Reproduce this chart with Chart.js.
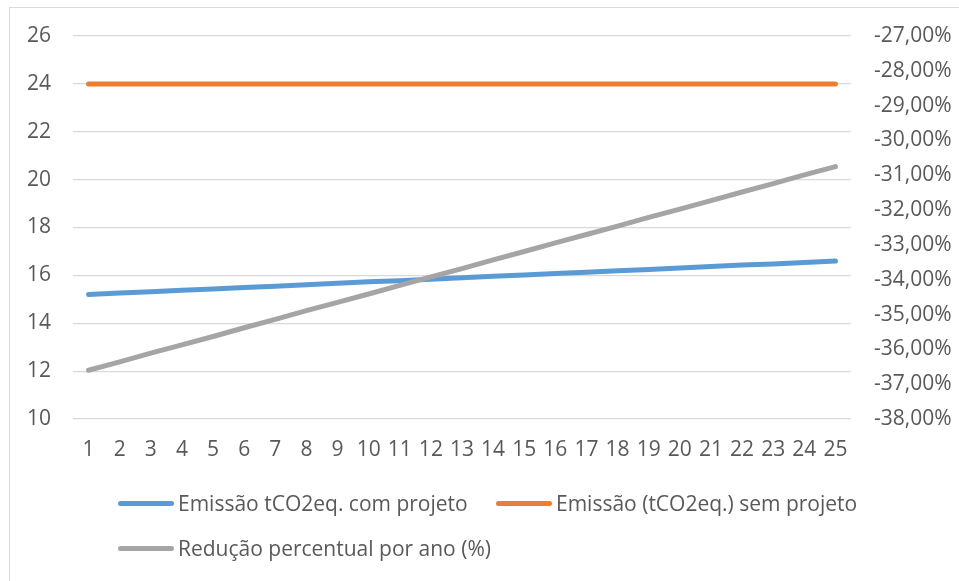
<!DOCTYPE html>
<html>
<head>
<meta charset="utf-8">
<script src="https://cdn.jsdelivr.net/npm/chart.js@4/dist/chart.umd.min.js"></script>
<style>
  html, body { margin: 0; padding: 0; background: #fff; overflow: hidden; }
  #wrap { position: relative; width: 959px; height: 581px; overflow: hidden; }
  #frame { position: absolute; left: 9px; top: 7px; width: 1200px; height: 1200px; border: 1px solid #d9d9d9; box-sizing: border-box; }
  #chart { position: absolute; left: 0; top: 0; }
  .leg { position: absolute; font-family: "Open Sans", sans-serif; font-size: 21px; color: #595959; white-space: nowrap; line-height: 24px; }
  .leg .sw { position: absolute; top: 10px; height: 5px; width: 56px; border-radius: 3px; }
  .leg .tx { position: absolute; left: 60px; top: 0; }
</style>
</head>
<body>
<div id="wrap">
  <div id="frame"></div>
  <canvas id="chart" width="959" height="581"></canvas>
  <div id="legend"></div>
</div>
<script>
// Years of the project horizon
const anos = ['1','2','3','4','5','6','7','8','9','10','11','12','13','14','15','16','17','18','19','20','21','22','23','24','25'];

// Emissions with the project (tCO2eq.)
const emissaoComProjeto = [15.20, 15.26, 15.32, 15.38, 15.43, 15.49, 15.55, 15.61, 15.67, 15.73, 15.78, 15.84, 15.90, 15.96, 16.02, 16.08, 16.13, 16.19, 16.25, 16.31, 16.37, 16.43, 16.48, 16.54, 16.60];

// Emissions without the project (tCO2eq.)
const emissaoSemProjeto = [24, 24, 24, 24, 24, 24, 24, 24, 24, 24, 24, 24, 24, 24, 24, 24, 24, 24, 24, 24, 24, 24, 24, 24, 24];

// Yearly percentage reduction (%)
const reducaoPercentual = [-36.60, -36.36, -36.11, -35.87, -35.63, -35.38, -35.14, -34.89, -34.65, -34.41, -34.16, -33.92, -33.68, -33.43, -33.19, -32.94, -32.70, -32.46, -32.21, -31.97, -31.73, -31.48, -31.24, -30.99, -30.75];

const nomesSeries = ['Emissão tCO2eq. com projeto', 'Emissão (tCO2eq.) sem projeto', 'Redução percentual por ano (%)'];
const cores = ['#5b9bd5', '#ed7d31', '#a5a5a5'];

const fonte = { family: '"Open Sans", sans-serif', size: 21 };
const corTexto = '#595959';

function serie(i, dados, eixo, ordem) {
  return {
    label: nomesSeries[i],
    data: dados,
    yAxisID: eixo,
    borderColor: cores[i],
    backgroundColor: cores[i],
    borderWidth: 5,
    borderCapStyle: 'round',
    borderJoinStyle: 'round',
    pointRadius: 0,
    pointHoverRadius: 0,
    tension: 0,
    fill: false,
    order: ordem
  };
}

new Chart(document.getElementById('chart'), {
  type: 'line',
  data: {
    labels: anos,
    datasets: [
      serie(0, emissaoComProjeto, 'y', 2),
      serie(1, emissaoSemProjeto, 'y', 1),
      serie(2, reducaoPercentual, 'y1', 0)
    ]
  },
  options: {
    responsive: false,
    devicePixelRatio: 1,
    animation: false,
    events: [],
    layout: { padding: { left: 0, right: 0, top: 36, bottom: 112 } },
    plugins: { legend: { display: false }, tooltip: { enabled: false } },
    scales: {
      x: {
        offset: true,
        grid: { display: false, drawTicks: false },
        border: { display: false },
        ticks: { font: fonte, color: corTexto, padding: 18, maxRotation: 0, autoSkip: false },
        afterFit: s => { s.height = 50; }
      },
      y: {
        position: 'left',
        min: 10, max: 26,
        ticks: { stepSize: 2, font: fonte, color: corTexto, padding: 22 },
        grid: { color: '#d9d9d9', lineWidth: 1.2, drawTicks: false },
        border: { display: false },
        afterFit: s => { s.width = 73; }
      },
      y1: {
        position: 'right',
        min: -38, max: -27,
        ticks: {
          stepSize: 1, font: fonte, color: corTexto, padding: 23,
          callback: v => v.toFixed(2).replace('.', ',') + '%'
        },
        grid: { display: false, drawTicks: false },
        border: { display: false },
        afterFit: s => { s.width = 108; }
      }
    }
  }
});

// Legend entries placed under the plot
const posLegenda = [[118, 491], [496, 491], [118, 536]];
const leg = document.getElementById('legend');
nomesSeries.forEach((nome, i) => {
  const d = document.createElement('div');
  d.className = 'leg';
  d.style.left = posLegenda[i][0] + 'px';
  d.style.top = posLegenda[i][1] + 'px';
  const sw = document.createElement('span');
  sw.className = 'sw';
  sw.style.background = cores[i];
  const tx = document.createElement('span');
  tx.className = 'tx';
  tx.textContent = nome;
  d.appendChild(sw);
  d.appendChild(tx);
  leg.appendChild(d);
});
</script>
</body>
</html>
